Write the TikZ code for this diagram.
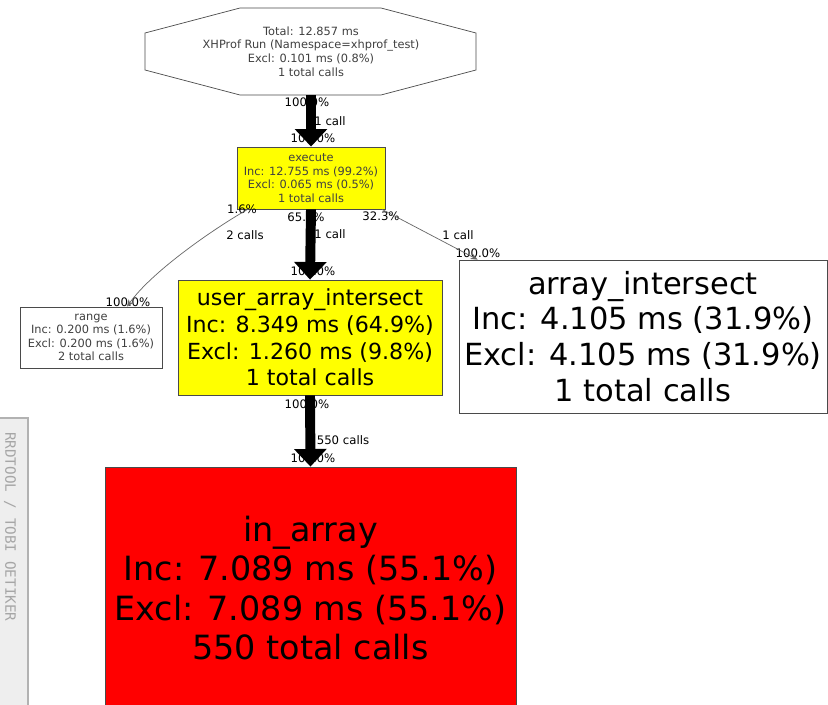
\documentclass[tikz,border=0pt]{standalone}
\usepackage{fontspec}
\setmainfont{DejaVu Sans}
\setmonofont{DejaVu Sans Mono}
\usetikzlibrary{arrows.meta}
\definecolor{boxline}{HTML}{4A4A4A}
\definecolor{panelgray}{HTML}{EEEEEE}
\definecolor{hotyellow}{HTML}{FFFF00}
\definecolor{hotred}{HTML}{FF0000}

\begin{document}
\begin{tikzpicture}[x=0.03cm, y=-0.03cm,
  fnbox/.style={draw=boxline, line width=0.7pt, align=center, inner sep=0pt},
  smalltxt/.style={font=\fontsize{9.7}{11.6}\selectfont, text=black!75},
  elabel/.style={font=\fontsize{10}{11}\selectfont, inner sep=0pt, text=black},
  bigcall/.style={line width=8.5pt, -{Triangle[width=27pt, length=15pt]}},
  thincall/.style={draw=black!60, line width=0.6pt, -{Stealth[length=6pt, width=5pt]}}]
  \useasboundingbox (0,0) rectangle (828,705);
  \fill[white] (0,0) rectangle (828,705);

  % side panel
  \fill[panelgray] (0,418) rectangle (28,705);
  \draw[black!30, line width=1.4pt] (0,418) -- (28,418) -- (28,705);
  \node[rotate=-90, anchor=west, font=\ttfamily\fontsize{12.2}{12}\selectfont, text=black!35] (credit) at (10,428) {RRDTOOL / TOBI OETIKER};

  % nodes
  \node[smalltxt, align=center, minimum width=9.9cm, minimum height=2.61cm] (run) at (311,51.5)
    {Total: 12.857 ms\\XHProf Run (Namespace=xhprof\_test)\\Excl: 0.101 ms (0.8\%)\\1 total calls};
  \draw[boxline, line width=0.6pt] (240,8) -- (381,8) -- (476,33) -- (476,70) -- (381,95) -- (240,95) -- (145,70) -- (145,33) -- cycle;
  \node[fnbox, smalltxt, fill=hotyellow, minimum width=4.44cm, minimum height=1.86cm] (exec) at (311,178)
    {execute\\Inc: 12.755 ms (99.2\%)\\Excl: 0.065 ms (0.5\%)\\1 total calls};
  \node[fnbox, smalltxt, fill=white, minimum width=4.26cm, minimum height=1.83cm] (range) at (91,337.5)
    {range\\Inc: 0.200 ms (1.6\%)\\Excl: 0.200 ms (1.6\%)\\2 total calls};
  \node[fnbox, fill=hotyellow, font=\fontsize{18.9}{22.8}\selectfont, minimum width=7.92cm, minimum height=3.45cm] (uai) at (310,337.5)
    {user\_array\_intersect\\Inc: 8.349 ms (64.9\%)\\Excl: 1.260 ms (9.8\%)\\1 total calls};
  \node[fnbox, fill=white, font=\fontsize{26}{30.5}\selectfont, minimum width=11.04cm, minimum height=4.59cm] (ai) at (643,336.5)
    {array\_intersect\\Inc: 4.105 ms (31.9\%)\\Excl: 4.105 ms (31.9\%)\\1 total calls};
  \node[fnbox, fill=hotred, font=\fontsize{28.5}{33.4}\selectfont, minimum width=12.33cm, minimum height=7.26cm] (inarr) at (310.5,588)
    {in\_array\\Inc: 7.089 ms (55.1\%)\\Excl: 7.089 ms (55.1\%)\\550 total calls};

  % edge labels
  \node[elabel] (runout) at (307,102) {100.0\%};
  \node[elabel] (runcall) at (330,121) {1 call};
  \node[elabel] (execin) at (313,138) {100.0\%};
  \node[elabel] (rangeout) at (242,209) {1.6\%};
  \node[elabel] (rangecall) at (245,235) {2 calls};
  \node[elabel] (rangein) at (128,302) {100.0\%};
  \node[elabel] (uaiout) at (306,217) {65.7\%};
  \node[elabel] (uaicall) at (330,234) {1 call};
  \node[elabel] (uaiin) at (313,271) {100.0\%};
  \node[elabel] (aiout) at (381,216) {32.3\%};
  \node[elabel] (aicall) at (458,235) {1 call};
  \node[elabel] (aiin) at (478,253) {100.0\%};
  \node[elabel] (inout) at (307,404) {100.0\%};
  \node[elabel] (incall) at (343,440) {550 calls};
  \node[elabel] (inin) at (313,458) {100.0\%};

  % calls
  \draw[bigcall] (run.south) -- (exec.north);
  \draw[bigcall] (exec.south) -- (uai.north);
  \draw[bigcall] (uai.south) -- (inarr.north);
  \draw[thincall] ([xshift=0.33cm]exec.south west) .. controls +(-35,20) and +(25,-35) .. ([xshift=1.08cm]range.north);
  \draw[thincall] ([xshift=-0.1cm]exec.south east) -- ([xshift=0.57cm]ai.north west);
\end{tikzpicture}
\end{document}
